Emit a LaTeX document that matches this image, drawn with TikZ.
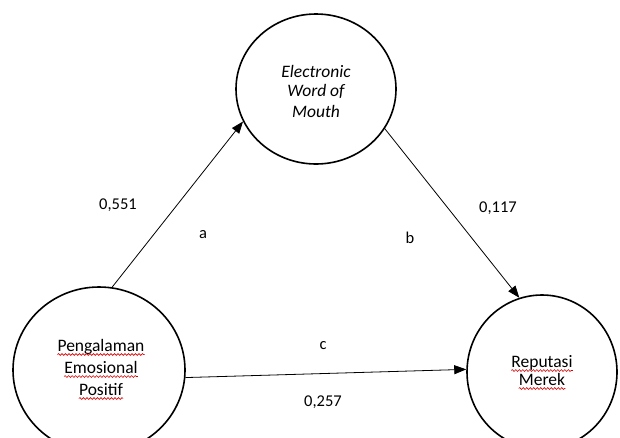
\documentclass[tikz,border=0pt]{standalone}
\usepackage{fontspec}
\setmainfont{Carlito}
\usetikzlibrary{shapes.geometric,arrows.meta,decorations.pathmorphing}
\tikzset{
  construct/.style={ellipse, draw, line width=1.6pt, inner sep=0pt},
  word/.style={inner sep=0pt, font=\fontsize{17.5}{20}\selectfont},
  path/.style={line width=0.8pt, -{Triangle[length=12pt,width=9pt]}},
  coef/.style={font=\fontsize{16.5}{19}\selectfont},
  wavy/.style={red!85!black, line width=0.6pt, decorate,
    decoration={snake, amplitude=0.9pt, segment length=3.5pt}}
}
% red wavy line under a word node, as a spell checker marks it
\newcommand\spellmark[1]{\draw[wavy] ([yshift=-3.5pt]#1.base west) -- ([yshift=-3.5pt]#1.base east);}
\begin{document}
\begin{tikzpicture}[x=1pt,y=-1pt]
  \useasboundingbox (0,0) rectangle (620,437);
  \clip (0,0) rectangle (620,437);
  % constructs
  \node[construct, minimum width=160pt, minimum height=150pt] (ewom) at (316,89) {};
  \node[construct, minimum width=172pt, minimum height=166pt] (pep) at (99,370) {};
  \node[construct, minimum width=150pt, minimum height=154pt] (rep) at (542,372) {};
  % construct names
  \node[word, font=\fontsize{17.5}{20}\selectfont\itshape] (ew1) at (316,71) {Electronic};
  \node[word, font=\fontsize{17.5}{20}\selectfont\itshape] (ew2) at (316,91) {Word of};
  \node[word, font=\fontsize{17.5}{20}\selectfont\itshape] (ew3) at (316,111) {Mouth};
  \node[word, anchor=base] (pe1) at (101,351) {Pengalaman};
  \node[word, anchor=base] (pe2) at (101,373) {Emosional};
  \node[word, anchor=base] (pe3) at (101,395) {Positif};
  \node[word, anchor=base] (re1) at (542,367) {Reputasi};
  \node[word, anchor=base] (re2) at (542,385) {Merek};
  \spellmark{pe1}\spellmark{pe2}\spellmark{pe3}
  \spellmark{re1}\spellmark{re2}
  % paths
  \draw[path] (pep.81) -- (ewom.204);
  \draw[path] (ewom.330) -- (rep.107);
  \draw[path] (pep.355) -- (rep.178);
  % labels
  \node[coef] (la) at (118,205) {0,551};
  \node[coef] (pa) at (203,235) {a};
  \node[coef] (lb) at (498,208) {0,117};
  \node[coef] (pb) at (410,238) {b};
  \node[coef] (pc) at (323,346) {c};
  \node[coef] (lc) at (323,402) {0,257};
\end{tikzpicture}
\end{document}
